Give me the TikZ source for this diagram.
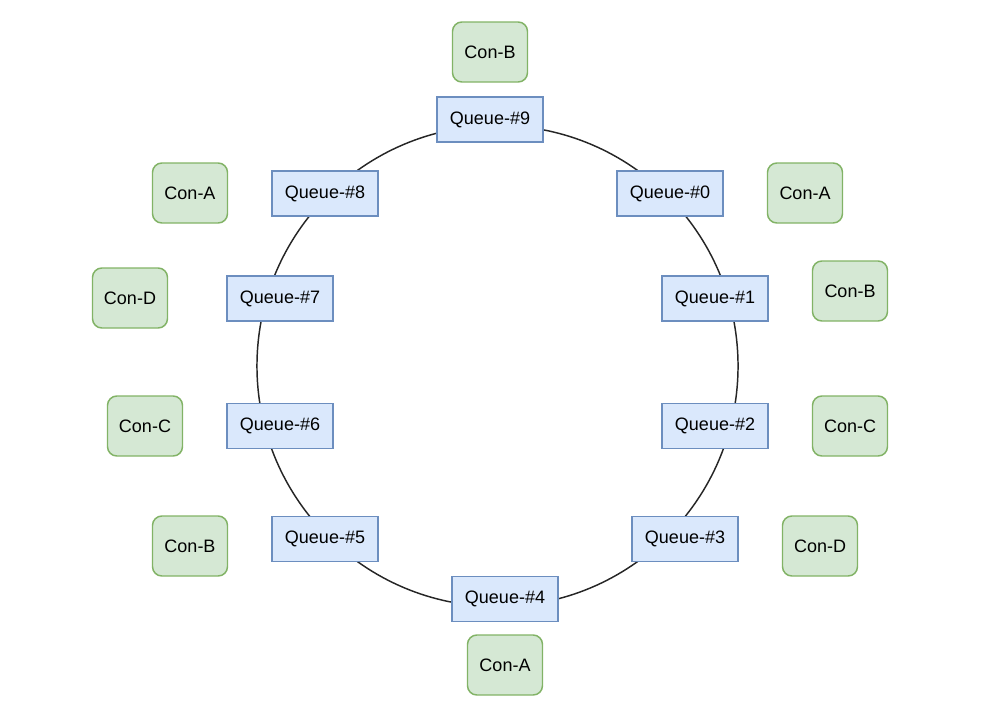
\documentclass[tikz,border=0pt]{standalone}
\usepackage{fontspec}
\setmainfont{Liberation Sans}
\usepackage{xcolor}
\definecolor{qfill}{HTML}{DAE8FC}
\definecolor{qline}{HTML}{6C8EBF}
\definecolor{cfill}{HTML}{D5E8D4}
\definecolor{cline}{HTML}{82B366}
\begin{document}
\begin{tikzpicture}[x=0.75pt,y=-0.75pt,
  queue/.style={draw=qline,fill=qfill,line width=1.1pt,minimum width=79.5pt,minimum height=33.75pt,inner sep=0pt,font=\fontsize{13.5}{16}\selectfont},
  con/.style={draw=cline,fill=cfill,line width=1.1pt,rounded corners=7pt,minimum width=56.25pt,minimum height=45pt,inner sep=0pt,font=\fontsize{13.5}{16}\selectfont}]
\useasboundingbox (0,0) rectangle (981,714);
\coordinate (ring) at (497.5,366);
\draw [black!85,line width=1.1pt] (ring) circle (180.4pt);
\node [queue] (q9) at (490,119.5) {Queue-\#9};
\node [queue] (q0) at (670,193.5) {Queue-\#0};
\node [queue] (q1) at (715,298.5) {Queue-\#1};
\node [queue] (q2) at (715,426) {Queue-\#2};
\node [queue] (q3) at (685,539) {Queue-\#3};
\node [queue] (q4) at (505,599) {Queue-\#4};
\node [queue] (q5) at (325,539) {Queue-\#5};
\node [queue] (q6) at (280,426) {Queue-\#6};
\node [queue] (q7) at (280,298.5) {Queue-\#7};
\node [queue] (q8) at (325,193.5) {Queue-\#8};
\node [con] (c9) at (490,52) {Con-B};
\node [con] (c0) at (805,193) {Con-A};
\node [con] (c1) at (850,291) {Con-B};
\node [con] (c2) at (850,426) {Con-C};
\node [con] (c3) at (820,546) {Con-D};
\node [con] (c4) at (505,665) {Con-A};
\node [con] (c5) at (190,546) {Con-B};
\node [con] (c6) at (145,426) {Con-C};
\node [con] (c7) at (130,298) {Con-D};
\node [con] (c8) at (190,193) {Con-A};
\end{tikzpicture}
\end{document}
